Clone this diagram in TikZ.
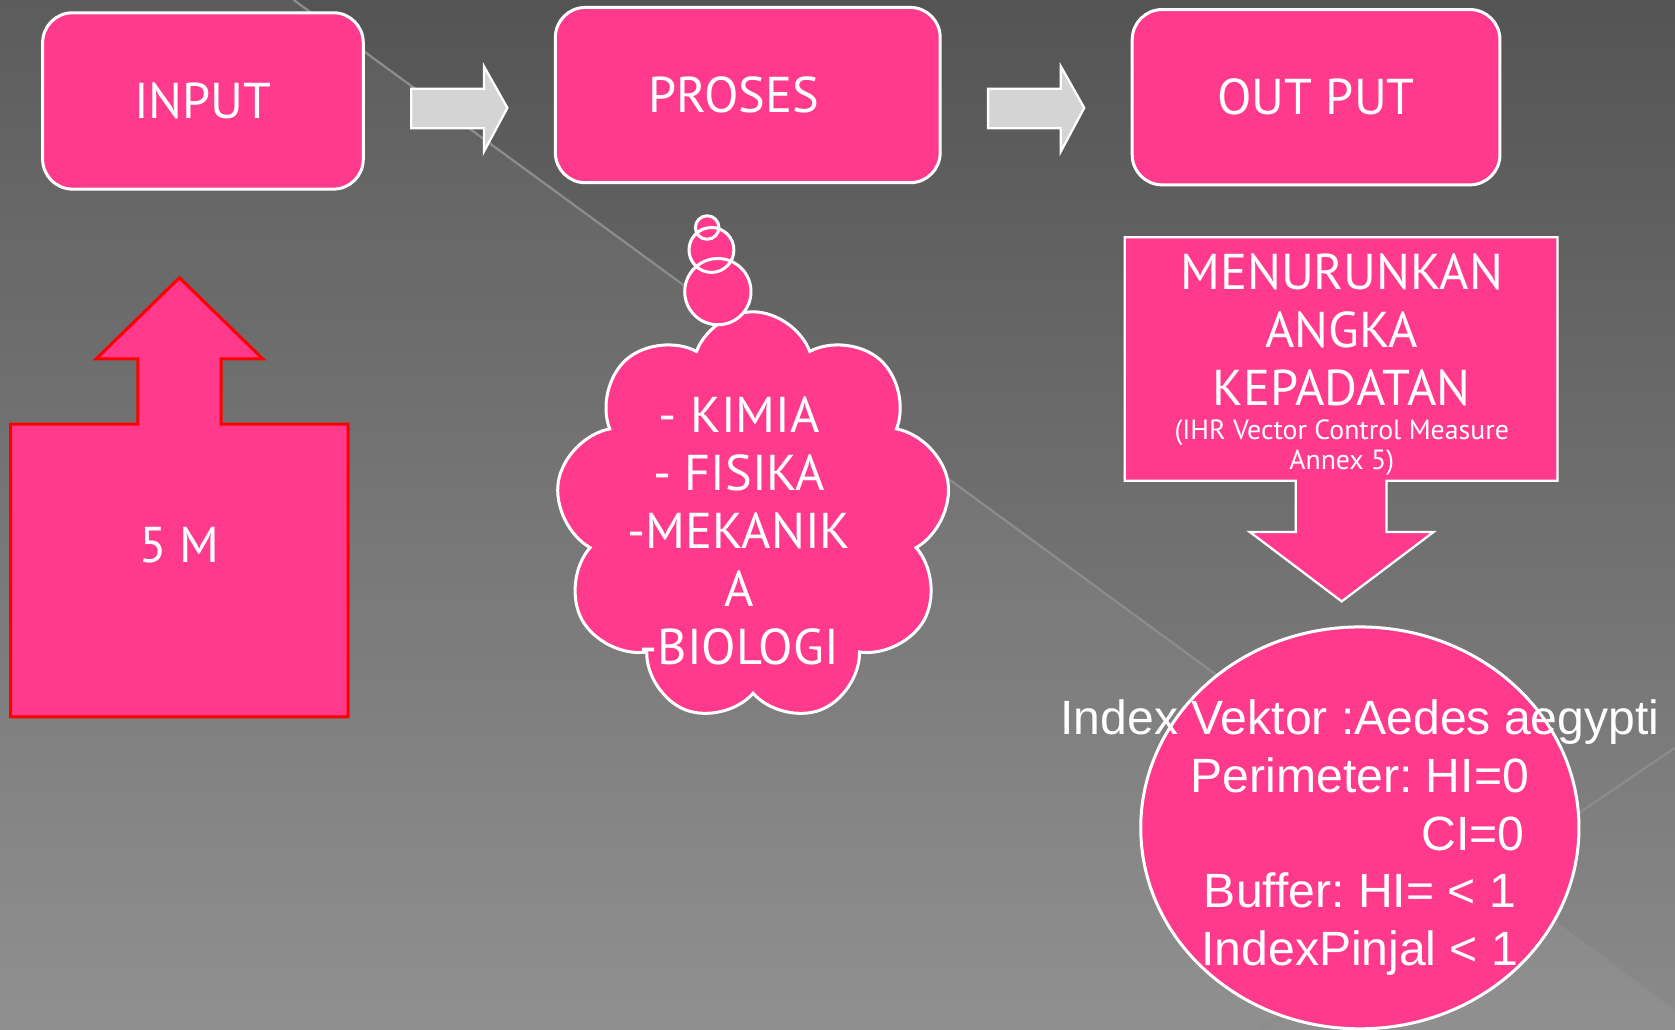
\documentclass[tikz,border=0pt]{standalone}
\usepackage{fontspec}
\setmainfont{PT Sans}
\newfontfamily\arialfont{Liberation Sans}
\usepackage{xcolor}
\usepackage{tikz}
\usetikzlibrary{positioning,shapes}
\frenchspacing

\definecolor{pinkbox}{HTML}{FF3A8C}
\definecolor{bgtop}{HTML}{545454}
\definecolor{bgbot}{HTML}{8A8A8A}
\definecolor{arrowgray}{HTML}{D4D4D4}
\definecolor{diagline}{HTML}{8C8C8C}

\begin{document}
\begin{tikzpicture}[
            x=0.01cm, y=-0.01cm,
            stepbox/.style={rectangle, rounded corners=0.28cm, draw=white, line width=0.8pt, fill=pinkbox, text=white, font=\fontsize{13.4}{17}\selectfont, minimum height=1.64cm, inner sep=0pt},
            callout/.style={draw=white, line width=0.6pt, fill=pinkbox},
            flowarrow/.style={draw=white, line width=0.6pt, fill=arrowgray},
            bigtext/.style={text=white, font=\fontsize{13.4}{15.4}\selectfont, align=center, inner sep=0pt},
            smalltext/.style={text=white, font=\fontsize{7.4}{8.2}\selectfont, align=center, inner sep=0pt},
            indtext/.style={text=white, font=\arialfont\fontsize{12.8}{15.4}\selectfont, inner sep=0pt, anchor=base}
        ]
            \useasboundingbox (0,0) rectangle (1568,964);
            \clip (0,0) rectangle (1568,964);
            % Background
            \shade[top color=bgtop, bottom color=bgbot] (0,0) rectangle (1568,964);
            \fill[white, opacity=0.05] (0,0) -- (275,0) -- (1593,964) -- (0,964) -- cycle;
            \draw[diagline, line width=0.6pt] (275,0) -- (1593,964);
            \draw[diagline, line width=0.6pt] (1568,700) -- (1180,964);

            % Top row
            \node[stepbox, minimum width=3cm, minimum height=1.65cm] (input) at (190,94.5) {INPUT};
            \node[stepbox, minimum width=3.6cm] (proses) at (700,89) {PROSES\hspace*{0.26cm}};
            \node[stepbox, minimum width=3.44cm] (output) at (1232,91) {OUT PUT};
            \foreach \dx in {0,540}
                \draw[flowarrow, shift={(\dx,0)}] (385,83) -- (453,83) -- (453,62) -- (475,101)
                    -- (453,142) -- (453,120) -- (385,120) -- cycle;

            % 5 M
            \draw[fill=pinkbox, draw=red, line width=0.8pt] (10,397) -- (129,397) -- (129,336) -- (90,336)
                -- (168,260) -- (246,336) -- (207,336) -- (207,397) -- (326,397) -- (326,671) -- (10,671) -- cycle;
            \node[bigtext] (fivem) at (168,510) {5 M};

            % Thought cloud
            \node[cloud, cloud puffs=9, cloud puff arc=140, aspect=0.95, draw=white, line width=0.8pt,
                fill=pinkbox, minimum width=3.7cm, minimum height=3.84cm, inner sep=0pt] (think) at (705,484) {};
            \fill[pinkbox] (672,273) circle (0.31cm) (666,234) circle (0.21cm) (662,213) circle (0.11cm);
            \draw[white, line width=0.8pt] (672,273) circle (0.31cm) (666,234) circle (0.21cm) (662,213) circle (0.11cm);
            \node[bigtext] (fields) at (692,497) {- KIMIA\\- FISIKA\\-MEKANIK\\A\\-BIOLOGI};

            % Output callout
            \draw[callout] (1053,222) -- (1458,222) -- (1458,450) -- (1298,450) -- (1298,498) -- (1342,498)
                -- (1256,563) -- (1170,498) -- (1213,498) -- (1213,450) -- (1053,450) -- cycle;
            \node[bigtext] (reduce) at (1256,309) {MENURUNKAN\\ANGKA\\KEPADATAN};
            \node[smalltext] (ihr) at (1256,419) {(IHR Vector Control Measure\\Annex 5)};

            % Target ellipse
            \node[ellipse, draw=white, line width=0.8pt, fill=pinkbox, minimum width=4.1cm, minimum height=3.76cm, inner sep=0pt] (target) at (1273,775) {};
            \node[indtext] (vektor) at (1273,688) {Index Vektor :Aedes aegypti};
            \node[indtext] (perim) at (1273,742) {Perimeter: HI=0};
            \node[indtext, anchor=base east] (ci) at (1428,796) {CI=0};
            \node[indtext] (buffer) at (1273,850) {Buffer: HI= < 1};
            \node[indtext] (pinjal) at (1273,904) {IndexPinjal < 1};
        \end{tikzpicture}
\end{document}
